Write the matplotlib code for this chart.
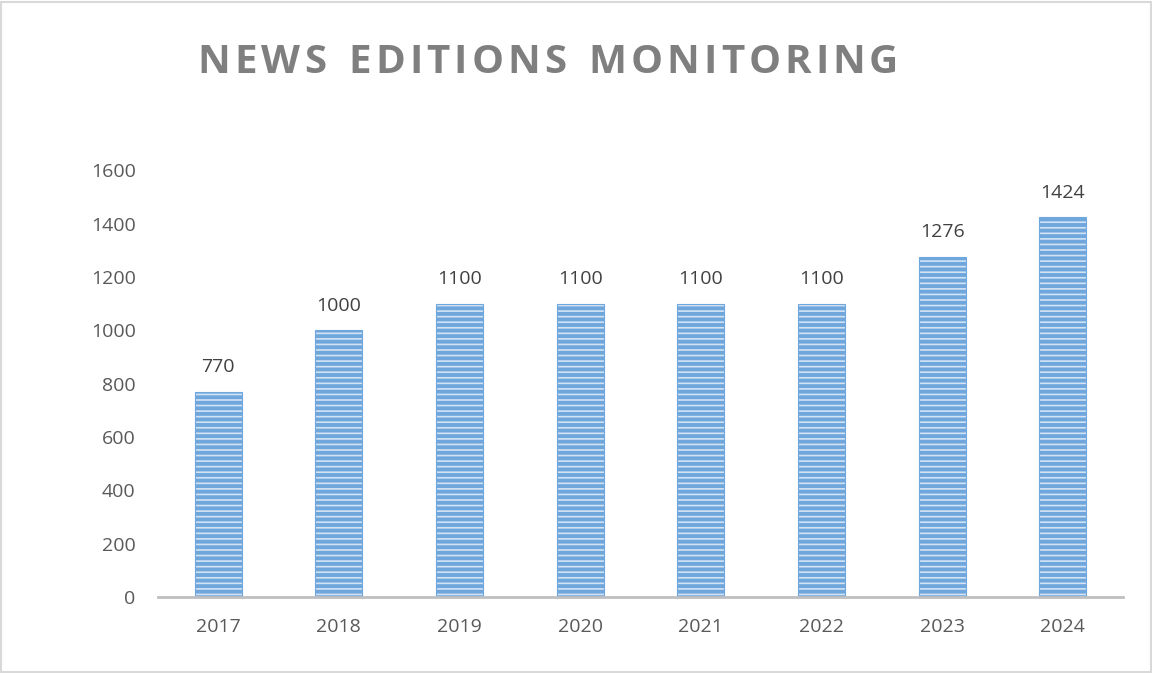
import matplotlib
matplotlib.use("Agg")
import matplotlib.pyplot as plt
from matplotlib.patches import Rectangle

years = ["2017", "2018", "2019", "2020", "2021", "2022", "2023", "2024"]
editions = [770, 1000, 1100, 1100, 1100, 1100, 1276, 1424]
y_ticks = [0, 200, 400, 600, 800, 1000, 1200, 1400, 1600]
title = "NEWS EDITIONS MONITORING"

plt.rcParams["font.family"] = ["Open Sans", "DejaVu Sans"]
plt.rcParams["hatch.color"] = "#5596d3"
plt.rcParams["hatch.linewidth"] = 2.8

fig = plt.figure(figsize=(11.52, 6.73), dpi=100)
ax = fig.add_axes([0.137, 0.113, 0.838, 0.634])

x = range(len(years))
bars = ax.bar(x, editions, width=0.39, color="#d2e3f5", edgecolor="#6fa6dc",
              linewidth=0.8, hatch="---", zorder=2)

for xi, v in zip(x, editions):
    ax.annotate(str(v), (xi, v), xytext=(0, 11), textcoords="offset points",
                ha="center", va="bottom", fontsize=14, color="#404040")

ax.set_xlim(-0.5, len(years) - 0.5)
ax.set_ylim(0, 1600)
ax.set_xticks(list(x))
ax.set_xticklabels(years)
ax.set_yticks(y_ticks)
ax.tick_params(axis="both", length=0, labelsize=14, colors="#595959")
ax.tick_params(axis="y", pad=16)
ax.tick_params(axis="x", pad=15)
for side in ("top", "right", "left"):
    ax.spines[side].set_visible(False)
ax.spines["bottom"].set_color("#bfbfbf")
ax.spines["bottom"].set_linewidth(2)
ax.set_facecolor("none")

# Title with wide letter spacing, drawn character by character
fig.canvas.draw()
renderer = fig.canvas.get_renderer()
tprops = dict(fontsize=29, fontweight="bold", color="#7f7f7f")
spacing = 4.0  # extra pixels between letters
widths = []
for ch in title:
    t = fig.text(0, 0, ch if ch != " " else "n", **tprops)
    w = t.get_window_extent(renderer).width
    if ch == " ":
        w *= 0.55
    widths.append(w)
    t.remove()
total = sum(widths) + spacing * (len(title) - 1)
cx = 548.0
x0 = cx - total / 2
W, H = fig.bbox.width, fig.bbox.height
for ch, w in zip(title, widths):
    if ch != " ":
        fig.text(x0 / W, 1 - 73 / H, ch, ha="left", va="baseline", **tprops)
    x0 += w + spacing

# Light frame round the chart area
fig.patches.append(Rectangle((0.001, 0.001), 0.998, 0.996, transform=fig.transFigure,
                             fill=False, edgecolor="#d9d9d9", linewidth=1.5))

fig.savefig("out.png", dpi=100)
